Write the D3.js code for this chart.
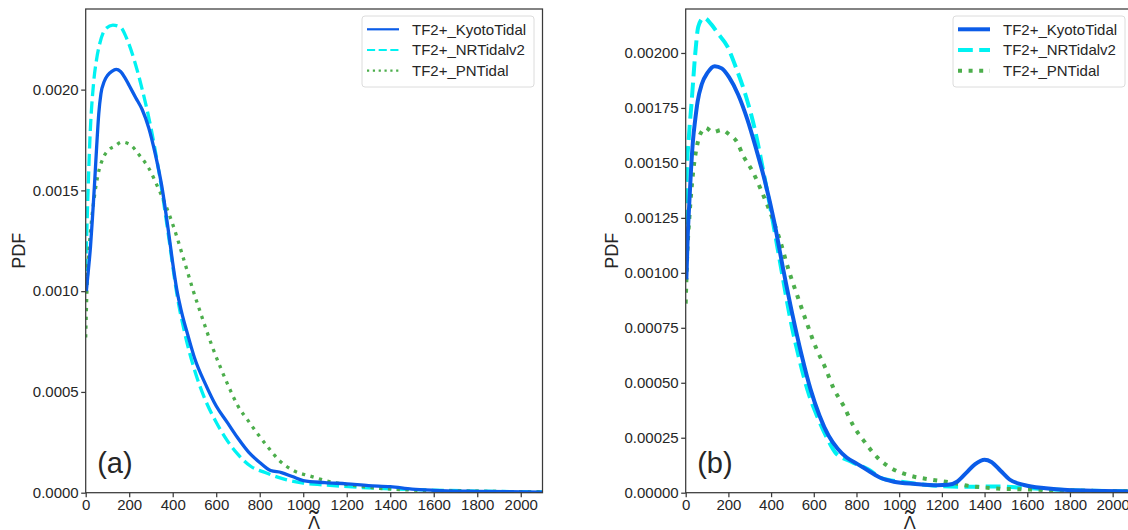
<!DOCTYPE html>
<html>
<head>
<meta charset="utf-8">
<script src="https://cdn.jsdelivr.net/npm/d3@7"></script>
<style>
  body { margin: 0; background: #fff; }
  svg { display: block; font-family: "Liberation Sans", Arial, sans-serif; }
</style>
</head>
<body>
<svg id="chart" width="1128" height="530"></svg>
<script>
// x ticks shared by both panels
const xTicks = [0, 200, 400, 600, 800, 1000, 1200, 1400, 1600, 1800, 2000];
const yTicksA = [0, 0.0005, 0.0010, 0.0015, 0.0020];
const yTicksB = [0, 0.00025, 0.0005, 0.00075, 0.0010, 0.00125, 0.0015, 0.00175, 0.0020];
const seriesNames = ['TF2+_KyotoTidal', 'TF2+_NRTidalv2', 'TF2+_PNTidal'];

// panel (a): [lambda, pdf]
const kyotoA = [[3,0.00100],[12,0.00110],[22,0.00122],[32,0.00138],[40,0.00152],[50,0.00171],[60,0.00188],[70,0.00198],[85,0.00204],[100,0.00207],[120,0.00209],[140,0.00210],[160,0.00209],[180,0.00206],[200,0.00202],[230,0.00196],[260,0.00190],[290,0.00181],[320,0.00168],[350,0.00152],[380,0.00130],[400,0.00114],[420,0.00100],[440,0.00090],[470,0.00078],[500,0.00067],[550,0.00054],[600,0.00043],[650,0.00035],[700,0.00027],[750,0.00020],[800,0.00015],[850,0.00011],[900,0.00010],[950,0.00008],[1000,0.00006],[1100,0.00005],[1200,0.000044],[1300,0.000035],[1400,0.00003],[1500,0.000018],[1600,0.000012],[1800,0.000007],[2100,0.000003]];
const nrA = [[0,0.00110],[8,0.00140],[20,0.00177],[36,0.00203],[50,0.00215],[65,0.00223],[90,0.00230],[125,0.00232],[160,0.00231],[190,0.00225],[225,0.00214],[260,0.00200],[300,0.00181],[340,0.00157],[380,0.00128],[420,0.00098],[460,0.00077],[500,0.00061],[550,0.00046],[600,0.00035],[650,0.00026],[700,0.00019],[760,0.00013],[825,0.00010],[920,0.000065],[1000,0.000048],[1090,0.000039],[1250,0.000027],[1400,0.000019],[1600,0.000013],[1800,0.000008],[2100,0.000004]];
const pnA = [[0,0.00077],[3,0.00090],[8,0.00108],[15,0.00120],[25,0.00133],[40,0.00147],[57,0.00158],[80,0.00166],[105,0.00170],[135,0.00172],[165,0.00174],[200,0.00173],[250,0.00167],[290,0.00161],[330,0.00152],[370,0.00142],[410,0.00130],[450,0.00116],[495,0.00100],[535,0.00087],[580,0.00073],[620,0.00062],[660,0.00052],[700,0.00043],[745,0.00036],[785,0.00030],[835,0.00023],[890,0.00016],[955,0.00011],[1040,0.00008],[1120,0.000055],[1240,0.000035],[1350,0.000022],[1500,0.000013],[1750,0.000008],[2100,0.000004]];

// panel (b)
const kyotoB = [[3,0.00097],[10,0.00118],[17,0.00132],[25,0.00147],[34,0.00160],[45,0.00170],[56,0.00178],[76,0.00186],[102,0.00191],[136,0.00194],[169,0.00193],[203,0.00189],[246,0.00181],[288,0.00170],[331,0.00156],[373,0.00141],[415,0.00123],[458,0.00101],[500,0.00081],[542,0.00063],[585,0.00047],[627,0.00035],[669,0.00026],[712,0.00020],[754,0.00016],[805,0.00013],[856,0.00010],[907,0.00007],[975,0.00005],[1076,0.00004],[1178,0.000034],[1229,0.000036],[1271,0.00005],[1314,0.00009],[1356,0.00013],[1400,0.00015],[1432,0.00014],[1475,0.00010],[1517,0.00006],[1585,0.000035],[1686,0.00002],[1788,0.000012],[1958,0.000008],[2100,0.000005]];
const nrB = [[0,0.00122],[5,0.00145],[15,0.00162],[28,0.00178],[45,0.00200],[59,0.00212],[85,0.00216],[120,0.00213],[150,0.00209],[195,0.00203],[237,0.00193],[280,0.00181],[322,0.00166],[364,0.00146],[407,0.00124],[449,0.00101],[492,0.00078],[534,0.00060],[576,0.00045],[619,0.00034],[661,0.00025],[703,0.00018],[771,0.000143],[856,0.000105],[920,0.000065],[1008,0.00005],[1110,0.000037],[1280,0.000027],[1449,0.000028],[1619,0.00002],[1788,0.000012],[2100,0.000006]];
const pnB = [[0,0.00086],[8,0.00110],[17,0.00125],[34,0.00145],[58,0.00160],[80,0.00165],[93,0.00166],[127,0.00164],[169,0.00165],[203,0.00163],[237,0.00160],[271,0.00153],[314,0.00146],[356,0.00137],[398,0.00127],[441,0.00115],[483,0.00101],[525,0.00089],[568,0.00077],[610,0.00066],[653,0.00057],[695,0.00047],[737,0.00040],[788,0.00030],[839,0.00023],[898,0.00016],[966,0.00011],[1042,0.00008],[1144,0.00006],[1246,0.000046],[1300,0.000035],[1449,0.00002],[1619,0.000014],[1800,0.00001],[2100,0.000006]];

const TEXT = '#262626';
const colors = ['#0b5ce8', '#00f2f2', '#4cae4c'];

const svg = d3.select('#chart');

const panels = [
  { id: 'a', tag: '(a)', data: [kyotoA, nrA, pnA], yTicks: yTicksA, yMax: 0.0024, fmt: '.4f',
    left: 85.7, right: 542.5, lw: 3.3, legLw: 2.2, legX: 362, ylabX: 19 },
  { id: 'b', tag: '(b)', data: [kyotoB, nrB, pnB], yTicks: yTicksB, yMax: 0.0022, fmt: '.5f',
    left: 685.7, right: 1134, lw: 4, legLw: 4, legX: 953, ylabX: 612 }
];
const plotTop = 9, plotBottom = 492.7;

function dashFor(i, lw) {
  if (i === 1) return (3.7 * lw) + ',' + (1.6 * lw);
  if (i === 2) return lw + ',' + (1.65 * lw);
  return null;
}

panels.forEach(p => {
  const g = svg.append('g');
  const x = d3.scaleLinear().domain([0, 2100]).range([p.left, p.right]);
  const y = d3.scaleLinear().domain([0, p.yMax]).range([plotBottom, plotTop]);

  g.append('clipPath').attr('id', 'clip-' + p.id)
    .append('rect')
    .attr('x', x(0)).attr('y', y(p.yMax))
    .attr('width', x(2100) - x(0)).attr('height', y(0) - y(p.yMax));

  const line = d3.line()
    .x(d => x(d[0])).y(d => y(d[1]))
    .curve(d3.curveMonotoneX);

  // draw order: NRTidal, PNTidal, Kyoto on top
  const plot = g.append('g').attr('clip-path', 'url(#clip-' + p.id + ')');
  [1, 2, 0].forEach(i => {
    plot.append('path')
      .datum(p.data[i])
      .attr('d', line)
      .attr('fill', 'none')
      .attr('stroke', colors[i])
      .attr('stroke-width', p.lw)
      .attr('stroke-dasharray', dashFor(i, p.lw))
      .attr('stroke-linejoin', 'round');
  });

  // frame
  g.append('rect')
    .attr('x', x(0)).attr('y', y(p.yMax))
    .attr('width', x(2100) - x(0)).attr('height', y(0) - y(p.yMax))
    .attr('fill', 'none').attr('stroke', '#3a3a3a').attr('stroke-width', 1.25);

  const xAxis = g.append('g')
    .attr('transform', 'translate(0,' + y(0) + ')')
    .call(d3.axisBottom(x).tickValues(xTicks).tickFormat(d3.format('d')).tickSize(4.5).tickPadding(2.5));
  const yAxis = g.append('g')
    .attr('transform', 'translate(' + x(0) + ',0)')
    .call(d3.axisLeft(y).tickValues(p.yTicks).tickFormat(d3.format(p.fmt)).tickSize(4.5).tickPadding(2.5));

  [xAxis, yAxis].forEach(a => {
    a.select('.domain').remove();
    a.selectAll('.tick line').attr('stroke', '#3a3a3a').attr('stroke-width', 1.25);
    a.selectAll('.tick text')
      .attr('fill', TEXT)
      .style('font-size', '15px')
      .style('font-family', '"Liberation Sans", Arial, sans-serif');
  });

  // axis labels
  g.append('text')
    .attr('transform', 'translate(' + (p.ylabX + 6) + ',' + ((plotTop + plotBottom) / 2) + ') rotate(-90)')
    .attr('text-anchor', 'middle')
    .attr('fill', TEXT)
    .style('font-size', '18px')
    .text('PDF');

  // lambda with a tilde drawn above it
  const xlab = g.append('g').attr('transform', 'translate(' + ((x(0) + x(2100)) / 2) + ',0)');
  xlab.append('text')
    .attr('y', 529)
    .attr('text-anchor', 'middle')
    .attr('fill', TEXT)
    .style('font-size', '18px')
    .text('\u039B');
  xlab.append('text')
    .attr('y', 530)
    .attr('text-anchor', 'middle')
    .attr('fill', TEXT)
    .style('font-size', '28px')
    .text('\u02DC');

  // panel tag
  g.append('text')
    .attr('x', x(0) + 11.5)
    .attr('y', 472.5)
    .attr('fill', TEXT)
    .style('font-size', '29px')
    .text(p.tag);

  // legend
  const leg = g.append('g').attr('transform', 'translate(' + p.legX + ',16)');
  leg.append('rect')
    .attr('width', 172).attr('height', 71)
    .attr('rx', 3)
    .attr('fill', '#fff').attr('fill-opacity', 0.85)
    .attr('stroke', '#dcdcdc').attr('stroke-width', 1);
  seriesNames.forEach((name, i) => {
    const ly = 13.3 + i * 20.7;
    leg.append('line')
      .attr('x1', 5).attr('x2', 37)
      .attr('y1', ly).attr('y2', ly)
      .attr('stroke', colors[i])
      .attr('stroke-width', p.legLw)
      .attr('stroke-dasharray', dashFor(i, p.legLw));
    leg.append('text')
      .attr('x', 50).attr('y', ly + 5.3)
      .attr('fill', TEXT)
      .style('font-size', '15px')
      .text(name);
  });
});
</script>
</body>
</html>
